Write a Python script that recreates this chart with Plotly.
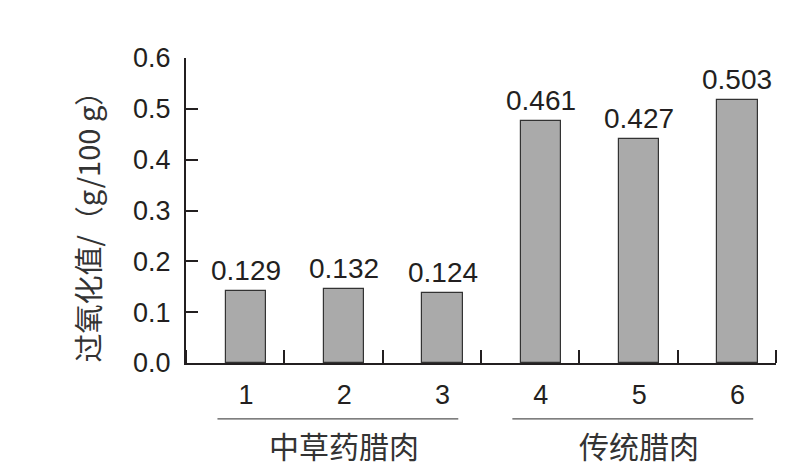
import plotly.graph_objects as go

# Data
categories = [1, 2, 3, 4, 5, 6]
tick_labels = ["1", "2", "3", "4", "5", "6"]
bar_heights = [0.142, 0.146, 0.138, 0.476, 0.441, 0.517]
value_labels = ["0.129", "0.132", "0.124", "0.461", "0.427", "0.503"]
group_names = ["中草药腊肉", "传统腊肉"]
group_members = [[1, 2, 3], [4, 5, 6]]
y_ticks = [0.0, 0.1, 0.2, 0.3, 0.4, 0.5, 0.6]
y_title = "过氧化值/（g/100 g）"

INK = "#231f20"
NUM_FONT = "Liberation Sans, Arial, Noto Sans CJK SC"
CJK_FONT = "Noto Sans CJK SC, Noto Sans, sans-serif"

fig = go.Figure()
fig.add_trace(go.Bar(
    x=categories, y=bar_heights, width=0.41,
    marker=dict(color="#aaaaaa", line=dict(color="#333333", width=1.2)),
    hoverinfo="skip", showlegend=False,
))

# Value labels above bars
for c, h, t in zip(categories, bar_heights, value_labels):
    fig.add_annotation(x=c, y=h, text=t, showarrow=False, xref="x", yref="y",
                       yanchor="bottom", yshift=3,
                       font=dict(family=NUM_FONT, size=28, color=INK))

# Group brackets and names below axis
for name, mem in zip(group_names, group_members):
    lo, hi = min(mem), max(mem)
    fig.add_shape(type="line", xref="x", yref="paper",
                  x0=lo - 0.29, x1=hi + 0.16, y0=-0.183, y1=-0.183,
                  line=dict(color="#555555", width=1.3))
    fig.add_annotation(x=(lo + hi) / 2, xref="x", y=-0.27, yref="paper",
                       text=name, showarrow=False, yanchor="middle",
                       font=dict(family=CJK_FONT, size=30, color="#333333"))

# Y axis title
fig.add_annotation(x=-0.168, xref="paper", y=0.47, yref="paper",
                   text=y_title, textangle=-90, showarrow=False,
                   xanchor="center", yanchor="middle",
                   font=dict(family=CJK_FONT, size=29, color="#333333"))

fig.update_layout(
    width=792, height=461,
    margin=dict(l=178, r=24, t=50, b=106),
    paper_bgcolor="white", plot_bgcolor="white",
    bargap=0,
    xaxis=dict(
        range=[0.39, 6.392], tickmode="array", tickvals=categories,
        ticktext=tick_labels, ticks="", showgrid=False, zeroline=False,
        showline=True, linecolor=INK, linewidth=2,
        tickfont=dict(family=NUM_FONT, size=27, color=INK),
        ticklabelstandoff=7,
        minor=dict(tickmode="linear", tick0=0.39, dtick=1, ticks="inside",
                   ticklen=13, tickwidth=2, tickcolor=INK, showgrid=False),
    ),
    yaxis=dict(
        range=[0, 0.6], tickmode="array", tickvals=y_ticks,
        ticktext=[f"{v:.1f}" for v in y_ticks],
        ticks="inside", ticklen=12, tickwidth=2, tickcolor=INK,
        showgrid=False, zeroline=False, showline=True, linecolor=INK, linewidth=2,
        tickfont=dict(family=NUM_FONT, size=27, color=INK),
        ticklabelstandoff=8,
    ),
)

fig.write_html("out.html")
